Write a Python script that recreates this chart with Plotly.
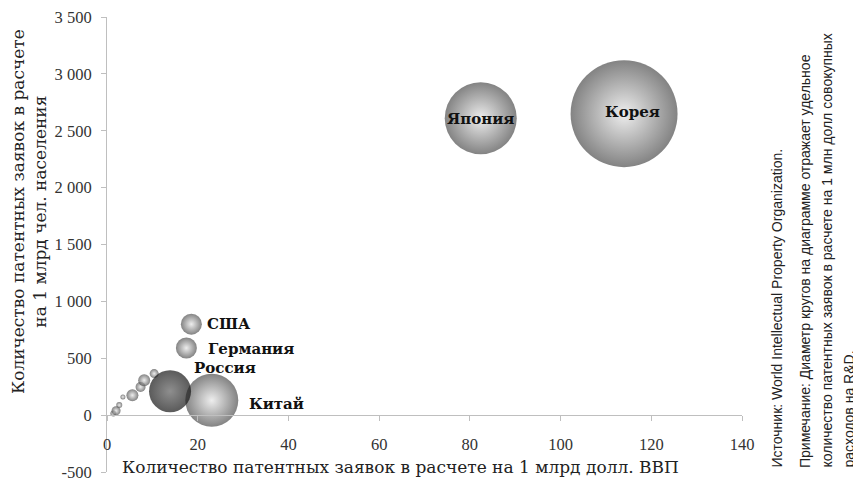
import plotly.graph_objects as go

# ---- data ----
countries = ["Корея", "Япония", "Китай", "Россия", "США", "Германия",
             "", "", "", "", "", "", "", ""]
patents_per_gdp = [114.0, 82.4, 23.1, 13.9, 18.6, 17.5,
                   10.4, 8.2, 7.4, 5.6, 3.5, 2.7, 2.0, 1.4]
patents_per_pop = [2650, 2610, 130, 210, 800, 590,
                   365, 307, 248, 175, 160, 88, 38, 15]
bubble_size = [107, 72, 53, 42, 21, 21,
               9, 12, 10, 12, 5, 6, 9, 6]

x_ticks = [0, 20, 40, 60, 80, 100, 120, 140]
x_ticktext = ["0", "20", "40", "60", "80", "100", "120", "140"]
y_ticks = [-500, 0, 500, 1000, 1500, 2000, 2500, 3000, 3500]
y_ticktext = ["-500", "0", "500", "1\u00a0000", "1\u00a0500", "2\u00a0000",
              "2\u00a0500", "3\u00a0000", "3\u00a0500"]

x_title = "Количество патентных заявок в расчете на 1 млрд долл. ВВП"
y_title = "Количество патентных заявок в расчете<br>на 1 млрд чел. населения"
source_text = "Источник: World Intellectual Property Organization."
note_lines = ["Примечание: Диаметр кругов на диаграмме отражает удельное",
              "количество патентных заявок в расчете на 1 млн долл совокупных",
              "расходов на R&D."]

dark = "Россия"

light_idx = [i for i, c in enumerate(countries) if c != dark]
dark_idx = [i for i, c in enumerate(countries) if c == dark]

serif = "Liberation Serif, DejaVu Serif, serif"
label_font = dict(family="DejaVu Serif, serif", size=15, color="#111111")

# page has an 8px body margin: the figure is sized to fit the 861x480 window
W, H = 853, 472
L, T = 99, 9
PW, PH = 635, 455
R, B = W - L - PW, H - T - PH


def px(wx):  # window x pixel -> paper x
    return (wx - 107) / PW


def py(wy):  # window y pixel -> paper y
    return (472 - wy) / PH


fig = go.Figure()

order = sorted(light_idx, key=lambda i: bubble_size[i])
fig.add_trace(go.Scatter(
    x=[patents_per_gdp[i] for i in order],
    y=[patents_per_pop[i] for i in order],
    mode="markers",
    marker=dict(size=[bubble_size[i] for i in order], sizemode="diameter",
                color="#4e4e4e", line=dict(width=0),
                gradient=dict(type="radial", color="#e6e6e6")),
    hoverinfo="skip", showlegend=False,
))
fig.add_trace(go.Scatter(
    x=[patents_per_gdp[i] for i in dark_idx],
    y=[patents_per_pop[i] for i in dark_idx],
    mode="markers",
    marker=dict(size=[bubble_size[i] for i in dark_idx], sizemode="diameter",
                color="#141414", line=dict(width=0),
                gradient=dict(type="radial", color="#5e5e5e")),
    hoverinfo="skip", showlegend=False,
))
# invisible trace that carries the tick-label axis
fig.add_trace(go.Scatter(
    x=patents_per_gdp, y=patents_per_pop, xaxis="x2", mode="markers",
    marker=dict(opacity=0), hoverinfo="skip", showlegend=False,
))

label_offsets = {
    "Корея": (8, 2), "Япония": (0, -1), "Китай": (35, -4),
    "Россия": (22, 23), "США": (14, 0), "Германия": (20, -1),
}
label_anchor = {
    "Корея": "center", "Япония": "center", "Китай": "left",
    "Россия": "left", "США": "left", "Германия": "left",
}
for i, c in enumerate(countries):
    if not c:
        continue
    dx, dy = label_offsets[c]
    fig.add_annotation(
        x=patents_per_gdp[i], y=patents_per_pop[i], xref="x", yref="y",
        text=f"<b>{c}</b>", showarrow=False, font=label_font,
        xanchor=label_anchor[c], yanchor="middle", xshift=dx, yshift=dy,
    )

fig.add_annotation(x=px(400), y=py(467), xref="paper", yref="paper",
                   text=x_title, showarrow=False,
                   font=dict(family="DejaVu Serif, serif", size=17, color="#222222"),
                   xanchor="center", yanchor="middle")
fig.add_annotation(x=px(29), y=py(212), xref="paper", yref="paper",
                   text=y_title, showarrow=False,
                   font=dict(family="DejaVu Serif, serif", size=17, color="#222222"),
                   textangle=-90, xanchor="center", yanchor="middle", align="center")

note_font = dict(family="Liberation Sans Narrow, Liberation Sans, sans-serif", size=14, color="#222222")
fig.add_annotation(x=px(776), y=py(470), xref="paper", yref="paper",
                   text=source_text, showarrow=False, font=note_font, textangle=-90,
                   xanchor="center", yanchor="bottom")
for k, line in enumerate(note_lines):
    fig.add_annotation(x=px(805 + 21.5 * k), y=py(470), xref="paper", yref="paper",
                       text=line, showarrow=False, font=note_font, textangle=-90,
                       xanchor="center", yanchor="bottom")

tick_font = dict(family=serif, size=16.5, color="#333333")
fig.update_layout(
    width=W, height=H,
    margin=dict(l=L, r=R, t=T, b=B, autoexpand=False),
    paper_bgcolor="white", plot_bgcolor="white",
    xaxis=dict(range=[0, 140], tickvals=x_ticks, showticklabels=False,
               showgrid=False, zeroline=False, showline=True,
               linecolor="#bfbfbf", linewidth=1,
               ticks="outside", ticklen=5, tickcolor="#bfbfbf",
               anchor="free", position=500 / 4000),
    xaxis2=dict(range=[0, 140], tickvals=x_ticks, ticktext=x_ticktext,
                overlaying="x", anchor="free", position=py(432),
                showgrid=False, zeroline=False, showline=False, ticks="",
                tickfont=tick_font, ticklabeloverflow="allow"),
    yaxis=dict(range=[-500, 3500], tickvals=y_ticks, ticktext=y_ticktext,
               showgrid=False, zeroline=False, showline=True,
               linecolor="#bfbfbf", linewidth=1,
               ticks="outside", ticklen=5, tickcolor="#bfbfbf",
               ticklabelstandoff=6,
               tickfont=tick_font, ticklabeloverflow="allow"),
)

fig.write_html("out.html")
